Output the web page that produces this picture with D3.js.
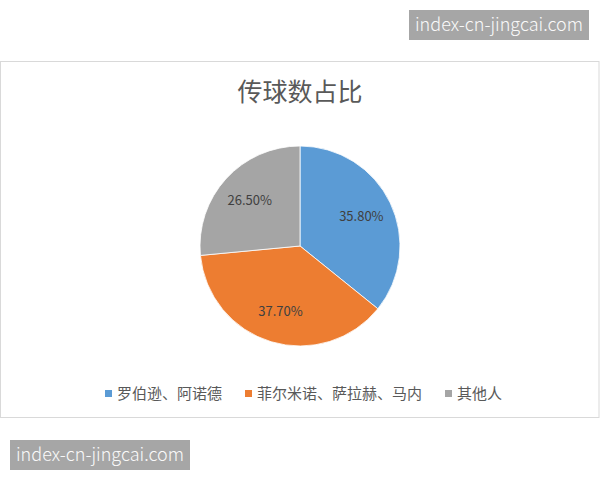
<!DOCTYPE html>
<html lang="zh">
<head>
    <meta charset="UTF-8">
    <title>传球数占比</title>
    <script src="https://d3js.org/d3.v7.min.js"></script>
    <style>
        body { margin: 0; background: #fff; }
        text { font-family: "Noto Sans CJK SC", "Noto Sans", sans-serif; }
    </style>
</head>
<body>
<script>
    const width  = 600;
    const height = 480;

    const title = "传球数占比";
    const categories = ["罗伯逊、阿诺德", "菲尔米诺、萨拉赫、马内", "其他人"];
    const values = [35.8, 37.7, 26.5];
    const colors = ["#5b9bd5", "#ed7d31", "#a5a5a5"];
    const watermark = "index-cn-jingcai.com";

    const cx = 300, cy = 246, radius = 100;

    const svg = d3.select("body").append("svg")
            .attr("width", width).attr("height", height);

    // chart frame
    svg.append("rect")
        .attr("x", 0.5).attr("y", 61.5)
        .attr("width", 598.5).attr("height", 356)
        .attr("fill", "#fff")
        .attr("stroke", "#d9d9d9");

    svg.append("text")
        .attr("x", 300).attr("y", 101)
        .attr("text-anchor", "middle")
        .attr("font-size", 25)
        .attr("fill", "#595959")
        .text(title);

    const pie = d3.pie().sort(null).value(d => d);
    const arc = d3.arc().innerRadius(0).outerRadius(radius);
    const labelArc = d3.arc().innerRadius(radius * 0.68).outerRadius(radius * 0.68);

    const g = svg.append("g").attr("transform", "translate(" + [cx, cy] + ")");
    const arcs = pie(values);

    g.selectAll("path")
        .data(arcs).enter()
        .append("path")
        .attr("d", arc)
        .attr("fill", (d, i) => colors[i])
        .attr("stroke", "#fff")
        .attr("stroke-width", 0.8);

    g.selectAll("text")
        .data(arcs).enter()
        .append("text")
        .attr("transform", d => "translate(" + labelArc.centroid(d) + ")")
        .attr("text-anchor", "middle")
        .attr("dy", "0.35em")
        .attr("font-size", 13)
        .attr("fill", "#404040")
        .text(d => d.data.toFixed(2) + "%");

    // legend
    const legendX = [105, 245, 445];
    const legend = svg.append("g");
    categories.forEach((c, i) => {
        const item = legend.append("g").attr("transform", "translate(" + [legendX[i], 394] + ")");
        item.append("rect")
            .attr("x", 0).attr("y", -4)
            .attr("width", 7).attr("height", 7)
            .attr("fill", colors[i]);
        item.append("text")
            .attr("x", 12).attr("y", 0)
            .attr("dy", "0.35em")
            .attr("font-size", 15)
            .attr("fill", "#595959")
            .text(c);
    });

    // watermarks
    [[409, 10], [10, 440]].forEach(([x, y]) => {
        svg.append("rect")
            .attr("x", x).attr("y", y)
            .attr("width", 180).attr("height", 30)
            .attr("fill", "#a6a6a6");
        svg.append("text")
            .attr("x", x + 90).attr("y", y + 15)
            .attr("dy", "0.35em")
            .attr("text-anchor", "middle")
            .attr("font-family", "Roboto, sans-serif")
            .attr("font-weight", 300)
            .attr("font-size", 18)
            .attr("fill", "#fafafa")
            .text(watermark);
    });
</script>
</body>
</html>
